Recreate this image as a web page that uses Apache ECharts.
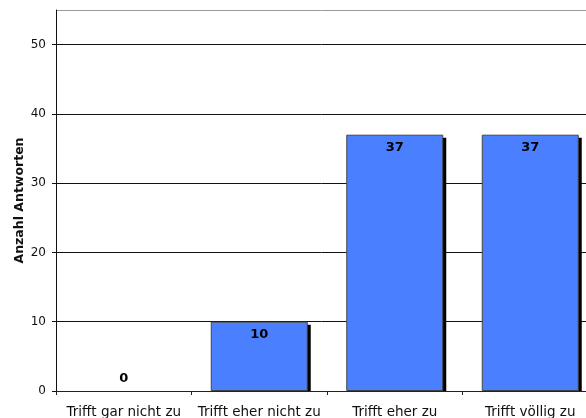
<!DOCTYPE html>
<html>
<head>
<meta charset="utf-8">
<script src="https://cdn.jsdelivr.net/npm/echarts@6/dist/echarts.min.js"></script>
<style>
  html, body { margin: 0; padding: 0; background: #fff; }
  #chart { width: 586px; height: 418px; }
</style>
</head>
<body>
<div id="chart"></div>
<script>
'use strict';
// Antworten je Kategorie
const categories = ['Trifft gar nicht zu', 'Trifft eher nicht zu', 'Trifft eher zu', 'Trifft völlig zu'];
const counts = [0, 10, 37, 37];
const yName = 'Anzahl Antworten';

const FONT = 'DejaVu Sans, Verdana, sans-serif';
const BAR = '#4a80ff';
const BAR_W = 97;

// schwarzer Schlagschatten rechts neben jedem Balken
function renderShadow(params, api) {
  const v = api.value(1);
  if (!v) return null;
  const top = api.coord([api.value(0), v]);
  const base = api.coord([api.value(0), 0]);
  return {
    type: 'rect',
    shape: { x: top[0] - BAR_W / 2 + 3, y: top[1] + 3, width: BAR_W, height: base[1] - top[1] - 3 },
    style: { fill: '#000' }
  };
}

const chart = echarts.init(document.getElementById('chart'));
chart.setOption({
  backgroundColor: '#fff',
  animation: false,
  grid: { left: 56, top: 10, width: 542, bottom: 27, outerBoundsMode: 'none', containLabel: false },
  xAxis: {
    type: 'category',
    data: categories,
    axisLine: { lineStyle: { color: '#222', width: 1 } },
    axisTick: { show: true, length: 4, lineStyle: { color: '#222' } },
    axisLabel: { color: '#111', fontFamily: FONT, fontSize: 13.5, margin: 14, interval: 0 }
  },
  yAxis: {
    type: 'value',
    min: 0, max: 55, interval: 10,
    name: yName,
    nameLocation: 'middle',
    nameGap: 30,
    nameMoveOverlap: false,
    nameTextStyle: { color: '#111', fontFamily: FONT, fontSize: 12.5, fontWeight: 'bold' },
    axisLine: { show: true, lineStyle: { color: '#111', width: 1 } },
    axisTick: { show: true, length: 4, lineStyle: { color: '#111' } },
    axisLabel: { color: '#111', fontFamily: FONT, fontSize: 12, margin: 10, showMaxLabel: false },
    splitLine: { lineStyle: { color: ['#111', '#111', '#111', '#111', '#111', '#111', '#999'], width: 1 } }
  },
  series: [
    {
      type: 'custom',
      renderItem: renderShadow,
      data: counts.map((v, i) => [i, v]),
      z: 1
    },
    {
      type: 'bar',
      barWidth: BAR_W,
      z: 2,
      data: counts.map((v) => ({
        value: v,
        label: { position: v === 0 ? 'top' : 'insideTop' },
        itemStyle: v === 0 ? { borderWidth: 0 } : {}
      })),
      itemStyle: { color: BAR, borderColor: '#444', borderWidth: 1 },
      label: {
        show: true,
        distance: 6,
        color: '#000',
        fontFamily: FONT,
        fontSize: 13,
        fontWeight: 'bold'
      }
    }
  ]
});
</script>
</body>
</html>
